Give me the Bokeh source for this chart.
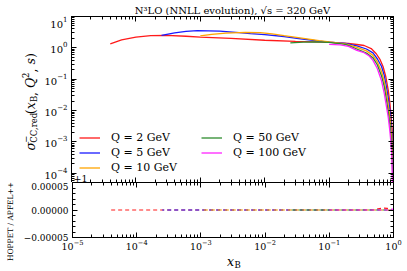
import math
from bokeh.plotting import figure
from bokeh.models import (LogAxis, LinearAxis, LogTicker, SingleIntervalTicker, Range1d,
                          Legend, LegendItem, Label, CustomJSTickFormatter)
from bokeh.layouts import column, row
from bokeh.embed import file_html
from bokeh.resources import INLINE

# ---------------- data ----------------
labels = ["Q = 2 GeV", "Q = 5 GeV", "Q = 10 GeV", "Q = 50 GeV", "Q = 100 GeV"]
colors = ["#ff1a1a", "#1a1aff", "#ffa500", "#2e8b2e", "#ff22ff"]

x_q2 = [4e-5, 6e-5, 1e-4, 1.7e-4, 3e-4, 6e-4, 1e-3, 3e-3, 1e-2, 3e-2, 6e-2, 0.105, 0.2, 0.27,
        0.35, 0.45, 0.54, 0.62, 0.69, 0.76, 0.83, 0.877, 0.91, 0.95, 0.97, 0.98, 0.995]
y_q2 = [1.35, 1.8, 2.2, 2.45, 2.5, 2.35, 2.2, 2.0, 1.75, 1.6, 1.55, 1.5, 1.38, 1.28,
        1.19, 0.95, 0.65, 0.42, 0.25, 0.12, 0.044, 0.018, 0.008, 0.0028, 0.0009, 0.0003, 0.00002]

x_q5 = [2.5e-4, 4e-4, 6e-4, 9e-4, 2e-3, 4e-3, 6e-3, 1e-2, 2e-2, 3.6e-2, 0.07, 0.1, 0.18, 0.27,
        0.38, 0.48, 0.56, 0.65, 0.72, 0.78, 0.83, 0.877, 0.91, 0.94, 0.97, 0.99]
y_q5 = [2.5, 3.0, 3.35, 3.55, 3.4, 3.05, 2.85, 2.65, 2.3, 1.95, 1.65, 1.53, 1.38, 1.15,
        0.92, 0.69, 0.45, 0.26, 0.13, 0.055, 0.025, 0.011, 0.005, 0.0022, 0.0004, 0.00002]

x_q10 = [1e-3, 1.5e-3, 2.5e-3, 5e-3, 8.5e-3, 1.3e-2, 2e-2, 4e-2, 0.07, 0.1, 0.18, 0.27,
         0.38, 0.48, 0.56, 0.65, 0.72, 0.78, 0.83, 0.877, 0.91, 0.94, 0.97, 0.985]
y_q10 = [2.4, 2.7, 2.95, 3.1, 3.05, 2.8, 2.45, 2.0, 1.7, 1.55, 1.35, 1.03,
         0.8, 0.575, 0.36, 0.18, 0.085, 0.034, 0.015, 0.0065, 0.003, 0.0013, 0.0002, 0.00002]

x_q50 = [0.025, 0.04, 0.06, 0.1, 0.18, 0.27, 0.38, 0.48, 0.56, 0.65, 0.72, 0.78, 0.83,
         0.877, 0.91, 0.94, 0.97, 0.985]
y_q50 = [1.45, 1.52, 1.55, 1.5, 1.3, 0.92, 0.68, 0.48, 0.29, 0.13, 0.058, 0.021, 0.009,
         0.0038, 0.0017, 0.0007, 0.0001, 0.00002]

x_q100 = [0.1, 0.15, 0.2, 0.27, 0.35, 0.42, 0.48, 0.56, 0.65, 0.72, 0.78, 0.83, 0.877,
          0.91, 0.94, 0.97]
y_q100 = [1.3, 1.25, 1.12, 0.83, 0.7, 0.55, 0.40, 0.22, 0.091, 0.035, 0.013, 0.006, 0.0023,
          0.001, 0.0004, 0.00002]

# ratio HOPPET / APFEL++ minus 1
rx_q2 = [4e-5, 0.3, 0.5, 0.6, 0.7, 0.8, 0.88, 0.95, 0.99]
rd_q2 = [0.0, 0.0, 5e-7, 2.5e-6, 3.5e-6, 3e-6, 2e-6, 5e-7, 0.0]
rx_q5 = [2.5e-4, 0.99]
rd_q5 = [0.0, 0.0]
rx_q10 = [1e-3, 0.99]
rd_q10 = [0.0, 0.0]
rx_q50 = [0.025, 0.99]
rd_q50 = [0.0, 0.0]
rx_q100 = [0.1, 0.8, 0.9, 0.97, 0.99]
rd_q100 = [0.0, 0.0, 1e-6, 1.5e-6, 0.0]

xs = [x_q2, x_q5, x_q10, x_q50, x_q100]
ys = [y_q2, y_q5, y_q10, y_q50, y_q100]
rxs = [rx_q2, rx_q5, rx_q10, rx_q50, rx_q100]
rds = [rd_q2, rd_q5, rd_q10, rd_q50, rd_q100]

title_text = "N\u00b3LO (NNLL evolution), \u221as = 320 GeV"
ratio_label = "HOPPET / APFEL++"

# ---------------- layout (page pixels, origin top-left) ----------------
FONT = "DejaVu Serif"
XMIN, XMAX = 1e-5, 1.0
YMIN, YMAX = 5.1e-5, 10.0
RMIN, RMAX = -5e-5, 5e-5

TOTAL_W = 407
TITLE_H = 15
LT_W = 40          # strip left of the main panel (y label)
P_H = 167
LB_W = 20          # strip left of the ratio panel (ratio label)
R_H = 71
XL_H = 17
FRAME_L = 71
FRAME_R = 393


def style_axis(ax, show_labels=True):
    ax.major_tick_in = 5
    ax.major_tick_out = 0
    ax.minor_tick_in = 3
    ax.minor_tick_out = 0
    ax.axis_line_color = "black"
    ax.major_tick_line_color = "black"
    ax.minor_tick_line_color = "black"
    ax.major_label_text_font = FONT
    ax.major_label_text_color = "black"
    if not show_labels:
        ax.major_label_text_font_size = "1px"
        ax.major_label_text_alpha = 0
        ax.major_label_standoff = 0


def text_fig(x0, y0, w, h, bl=0, br=0, bt=0):
    """A bare figure whose data coordinates equal page pixels (y downward)."""
    f = figure(width=w, height=h, x_range=Range1d(x0 + bl, x0 + w - br),
               y_range=Range1d(y0 + h, y0 + bt),
               output_backend="svg", toolbar_location=None, title=None,
               x_axis_location=None, y_axis_location=None, min_border=0,
               min_border_left=bl, min_border_right=br, min_border_top=bt, min_border_bottom=0)
    f.grid.visible = False
    f.outline_line_color = None
    return f


def add_text(f, x, y, text, size, style="normal", align="left", angle=0.0):
    f.add_layout(Label(x=x, y=y, text=text, angle=angle, text_align=align,
                       text_baseline="alphabetic", text_font=FONT,
                       text_font_size=f"{size}px", text_font_style=style,
                       text_color="black"))


# title strip
title_fig = text_fig(0, 0, TOTAL_W, TITLE_H)
add_text(title_fig, (FRAME_L + FRAME_R) / 2, 9.5, title_text, 10, align="center")

# main panel
P_W = TOTAL_W - LT_W
p = figure(width=P_W, height=P_H, x_axis_type="log", y_axis_type="log",
           x_range=Range1d(XMIN, XMAX), y_range=Range1d(YMIN, YMAX),
           output_backend="svg", toolbar_location=None, title=None,
           min_border_left=FRAME_L - LT_W, min_border_right=TOTAL_W - FRAME_R,
           min_border_top=1, min_border_bottom=0)
p.grid.visible = False
p.outline_line_color = None
p.xaxis.ticker = LogTicker(num_minor_ticks=10)
p.yaxis.ticker = LogTicker(num_minor_ticks=10)
style_axis(p.xaxis[0], False)
style_axis(p.yaxis[0], True)
p.yaxis.major_label_text_font_size = "10px"
p.yaxis.major_label_standoff = 4
ax_top = LogAxis(ticker=LogTicker(num_minor_ticks=10))
style_axis(ax_top, False)
p.add_layout(ax_top, "above")
ax_right = LogAxis(ticker=LogTicker(num_minor_ticks=10))
style_axis(ax_right, False)
p.add_layout(ax_right, "right")

renderers = []
for x, y, c in zip(xs, ys, colors):
    renderers.append(p.line(x, y, line_color=c, line_width=1.3))

leg1 = Legend(items=[LegendItem(label=labels[i], renderers=[renderers[i]]) for i in range(3)],
              location=(8, 7))
leg2 = Legend(items=[LegendItem(label=labels[i], renderers=[renderers[i]]) for i in range(3, 5)],
              location=(130, 22))
for lg in (leg1, leg2):
    lg.background_fill_alpha = 0
    lg.border_line_color = None
    lg.padding = 0
    lg.margin = 0
    lg.spacing = 0
    lg.glyph_width = 21
    lg.glyph_height = 15
    lg.label_height = 15
    lg.label_standoff = 11
    lg.label_text_font = FONT
    lg.label_text_font_size = "11px"
    lg.label_text_color = "black"
    p.add_layout(lg)

# offset text "+1" inside the lower-left corner of the main frame
p.add_layout(Label(x=2, y=4.5, x_units="screen", y_units="screen", text="+1",
                   text_align="left", text_baseline="alphabetic",
                   text_font=FONT, text_font_size="9.5px", text_color="black"))

# left strip with the rotated y label of the main panel
lt = text_fig(0, TITLE_H, LT_W, P_H, bt=1)
pieces = [
    ("\u03c3", 12.5, "italic", 0, 7.8),
    ("\u2212", 8.5, "normal", -5, 0),
    ("CC,red", 8.5, "normal", 3.5, 28.5),
    ("(", 12.5, "normal", 0, 4.9),
    ("x", 12.5, "italic", 0, 7.4),
    ("B", 8.5, "normal", 3.5, 6.0),
    (",", 12.5, "normal", 0, 8.0),
    ("Q", 12.5, "italic", 0, 9.8),
    ("2", 8.5, "normal", -5, 5.6),
    (",", 12.5, "normal", 0, 8.0),
    ("s", 12.5, "italic", 0, 6.4),
    (")", 12.5, "normal", 0, 4.9),
]
base_x = 30
cur_y = 150
for txt, sz, st, sh, adv in pieces:
    add_text(lt, base_x + sh, cur_y, txt, sz, style=st, angle=math.pi / 2)
    cur_y -= adv

# ratio panel
R_W = TOTAL_W - LB_W
r = figure(width=R_W, height=R_H, x_axis_type="log",
           x_range=p.x_range, y_range=Range1d(RMIN, RMAX),
           output_backend="svg", toolbar_location=None, title=None,
           min_border_left=FRAME_L - LB_W, min_border_right=TOTAL_W - FRAME_R,
           min_border_top=0, min_border_bottom=16)
r.grid.visible = False
r.outline_line_color = None
r.xaxis.ticker = LogTicker(num_minor_ticks=10)
style_axis(r.xaxis[0], True)
r.xaxis.major_label_text_font_size = "9.5px"
r.xaxis.major_label_standoff = 2
r.yaxis.ticker = SingleIntervalTicker(interval=5e-5, num_minor_ticks=5)
style_axis(r.yaxis[0], True)
r.yaxis.major_label_text_font_size = "9px"
r.yaxis.major_label_standoff = 4
r.yaxis.formatter = CustomJSTickFormatter(code="""
if (Math.abs(tick) < 1e-12) { return "0.00000"; }
return (tick < 0 ? "\\u2212" : "") + Math.abs(tick).toFixed(5);
""")
r_top = LogAxis(ticker=LogTicker(num_minor_ticks=10))
style_axis(r_top, False)
r.add_layout(r_top, "above")
r_right = LinearAxis(ticker=SingleIntervalTicker(interval=5e-5, num_minor_ticks=5))
style_axis(r_right, False)
r.add_layout(r_right, "right")

for i, (x, d, c) in enumerate(zip(rxs, rds, colors)):
    r.line(x, d, line_color=c, line_width=1.2, line_dash="4 3", line_dash_offset=i * 2)

# strip left of the ratio panel with its rotated label
y_lb0 = TITLE_H + P_H
lb = text_fig(0, y_lb0, LB_W, R_H + XL_H)
add_text(lb, 10, 221, ratio_label, 7.5, align="center", angle=math.pi / 2)

# x label strip (frame aligned with the ratio frame)
xl = text_fig(LB_W, y_lb0 + R_H, R_W, XL_H,
              bl=FRAME_L - LB_W, br=TOTAL_W - FRAME_R)
add_text(xl, 226, 261, "x", 12.5, style="italic")
add_text(xl, 233.5, 264, "B", 8.5)

layout = column(title_fig,
                row(lt, p, spacing=0),
                row(lb, column(r, xl, spacing=0), spacing=0),
                spacing=0)
open("out.html", "w").write(file_html(layout, INLINE))
